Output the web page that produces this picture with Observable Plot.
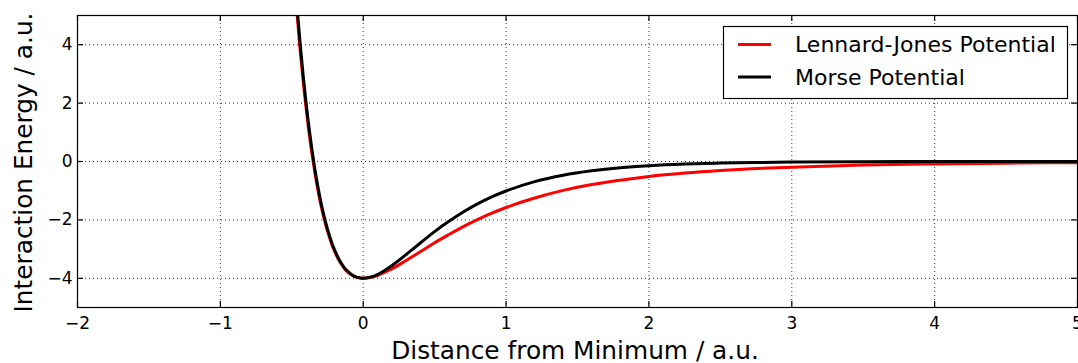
<!DOCTYPE html>
<html>
<head>
<meta charset="utf-8">
<script src="https://cdn.jsdelivr.net/npm/d3@7"></script>
<script src="https://cdn.jsdelivr.net/npm/@observablehq/plot@0.6"></script>
<style>
  html, body { margin: 0; padding: 0; background: #fff; }
  #chart { width: 1078px; height: 363px; overflow: hidden; }
</style>
</head>
<body>
<div id="chart"></div>
<script>
// Distance from the potential minimum (a.u.)
const distance = [-0.50, -0.48, -0.46, -0.44, -0.42, -0.40, -0.38, -0.36, -0.34, -0.32,
  -0.30, -0.28, -0.26, -0.24, -0.22, -0.20, -0.18, -0.16, -0.14, -0.12,
  -0.10, -0.08, -0.06, -0.04, -0.02, 0,
  0.05, 0.1, 0.15, 0.2, 0.3, 0.4, 0.5, 0.6, 0.7, 0.8, 0.9, 1.0,
  1.2, 1.4, 1.6, 1.8, 2.0, 2.25, 2.5, 2.75, 3.0, 3.5, 4.0, 4.5, 5.0];

// Interaction energy (a.u.) of each potential at those distances
const lennardJones = [7.53, 6.12, 4.87, 3.74, 2.74, 1.84, 1.02, 0.31, -0.33, -0.90,
  -1.40, -1.83, -2.21, -2.54, -2.84, -3.08, -3.29, -3.46, -3.61, -3.73,
  -3.82, -3.89, -3.944, -3.975, -3.993, -4.0,
  -3.973, -3.903, -3.80, -3.68, -3.39, -3.09, -2.78, -2.50, -2.23, -1.99, -1.77, -1.575,
  -1.25, -0.99, -0.79, -0.64, -0.514, -0.397, -0.309, -0.243, -0.193, -0.124, -0.082, -0.056, -0.039];

const morse = [7.81, 6.39, 5.11, 3.96, 2.93, 2.01, 1.18, 0.45, -0.21, -0.79,
  -1.30, -1.75, -2.14, -2.48, -2.78, -3.03, -3.25, -3.43, -3.58, -3.71,
  -3.80, -3.88, -3.935, -3.97, -3.99, -4.0,
  -3.96, -3.87, -3.73, -3.57, -3.19, -2.79, -2.40, -2.05, -1.73, -1.45, -1.21, -1.01,
  -0.69, -0.47, -0.32, -0.215, -0.145, -0.088, -0.054, -0.033, -0.020, -0.0073, -0.0027, -0.001, -0.0004];

const seriesNames = ["Lennard-Jones Potential", "Morse Potential"];
const xTicks = [-2, -1, 0, 1, 2, 3, 4, 5];
const yTicks = [-4, -2, 0, 2, 4];
const xLabel = "Distance from Minimum / a.u.";
const yLabel = "Interaction Energy / a.u.";

// Long-format table for the line mark: one row per (distance, series)
const seriesValues = [lennardJones, morse];
const rows = seriesNames.flatMap((name, s) =>
  distance.map((x, i) => ({x, energy: seriesValues[s][i], series: name})));

// Layout
const W = 1078, H = 363;
const M = {top: 15, right: 1, bottom: 56, left: 77};
const frameW = W - M.left - M.right;
const frameH = H - M.top - M.bottom;
const tickLen = 6;
const ink = "#000";
const fontFamily = "'DejaVu Sans', sans-serif";
const intLabel = d => String(d).replace("-", "\u2212");

// Axis titles, placed relative to the frame
function axisTitles(index, scales, values, dims) {
  const g = d3.create("svg:g")
    .attr("font-family", fontFamily)
    .attr("font-size", 24.8)
    .attr("fill", ink)
    .attr("text-anchor", "middle");
  const cx = (dims.marginLeft + dims.width - dims.marginRight) / 2;
  const cy = (dims.marginTop + dims.height - dims.marginBottom) / 2;
  g.append("text")
    .attr("x", cx - 2).attr("y", dims.height - 4.5)
    .text(xLabel);
  g.append("text")
    .attr("transform", `translate(${dims.marginLeft - 45.5},${cy + 1.5}) rotate(-90)`)
    .text(yLabel);
  return g.node();
}

// Boxed legend in the upper-right corner of the frame
function legend(index, scales, values, dims) {
  const right = dims.width - dims.marginRight;
  const top = dims.marginTop;
  const boxW = 344, boxH = 72;
  const g = d3.create("svg:g")
    .attr("font-family", fontFamily)
    .attr("font-size", 22)
    .attr("text-anchor", "start");
  const x0 = right - 10 - boxW, y0 = top + 11;
  g.append("rect")
    .attr("x", x0 + 0.5).attr("y", y0 + 0.5)
    .attr("width", boxW).attr("height", boxH)
    .attr("fill", "#fff").attr("stroke", ink).attr("stroke-width", 1.2);
  seriesNames.forEach((name, i) => {
    const cy = y0 + 18.5 + i * 32.5;
    g.append("line")
      .attr("x1", x0 + 15).attr("x2", x0 + 48)
      .attr("y1", cy).attr("y2", cy)
      .attr("stroke", scales.color(name)).attr("stroke-width", 3);
    g.append("text")
      .attr("x", x0 + 72).attr("y", cy)
      .attr("dy", "0.35em")
      .attr("fill", ink)
      .text(name);
  });
  return g.node();
}

const gridStyle = {stroke: ink, strokeOpacity: 0.8, strokeWidth: 1, strokeDasharray: "1,3"};
const tickStyle = {stroke: ink, strokeWidth: 1.2};

const chart = Plot.plot({
  width: W,
  height: H,
  marginTop: M.top,
  marginRight: M.right,
  marginBottom: M.bottom,
  marginLeft: M.left,
  style: {fontFamily, fontSize: "17px", background: "#fff", color: ink},
  x: {domain: [-2, 5]},
  y: {domain: [-5, 5]},
  color: {domain: seriesNames, range: ["#ff0000", "#000000"]},
  marks: [
    Plot.gridX(xTicks, gridStyle),
    Plot.gridY(yTicks, gridStyle),
    Plot.axisX(xTicks, {anchor: "bottom", tickSize: 0, tickPadding: 9, label: null, tickFormat: intLabel}),
    Plot.axisY(yTicks, {anchor: "left", tickSize: 0, tickPadding: 5, label: null, tickFormat: intLabel}),
    Plot.line(rows, {
      x: "x", y: "energy", z: "series", stroke: "series",
      strokeWidth: 3, curve: "monotone-x", clip: true,
      strokeLinejoin: "round", strokeLinecap: "butt"
    }),
    // inward tick marks on all four sides
    Plot.tickX(xTicks, {x: d => d, insetTop: frameH - tickLen, ...tickStyle}),
    Plot.tickX(xTicks, {x: d => d, insetBottom: frameH - tickLen, ...tickStyle}),
    Plot.tickY(yTicks, {y: d => d, insetRight: frameW - tickLen, ...tickStyle}),
    Plot.tickY(yTicks, {y: d => d, insetLeft: frameW - tickLen, ...tickStyle}),
    Plot.frame({stroke: ink, strokeWidth: 1.2}),
    axisTitles,
    legend
  ]
});

document.getElementById("chart").appendChild(chart);
</script>
</body>
</html>
